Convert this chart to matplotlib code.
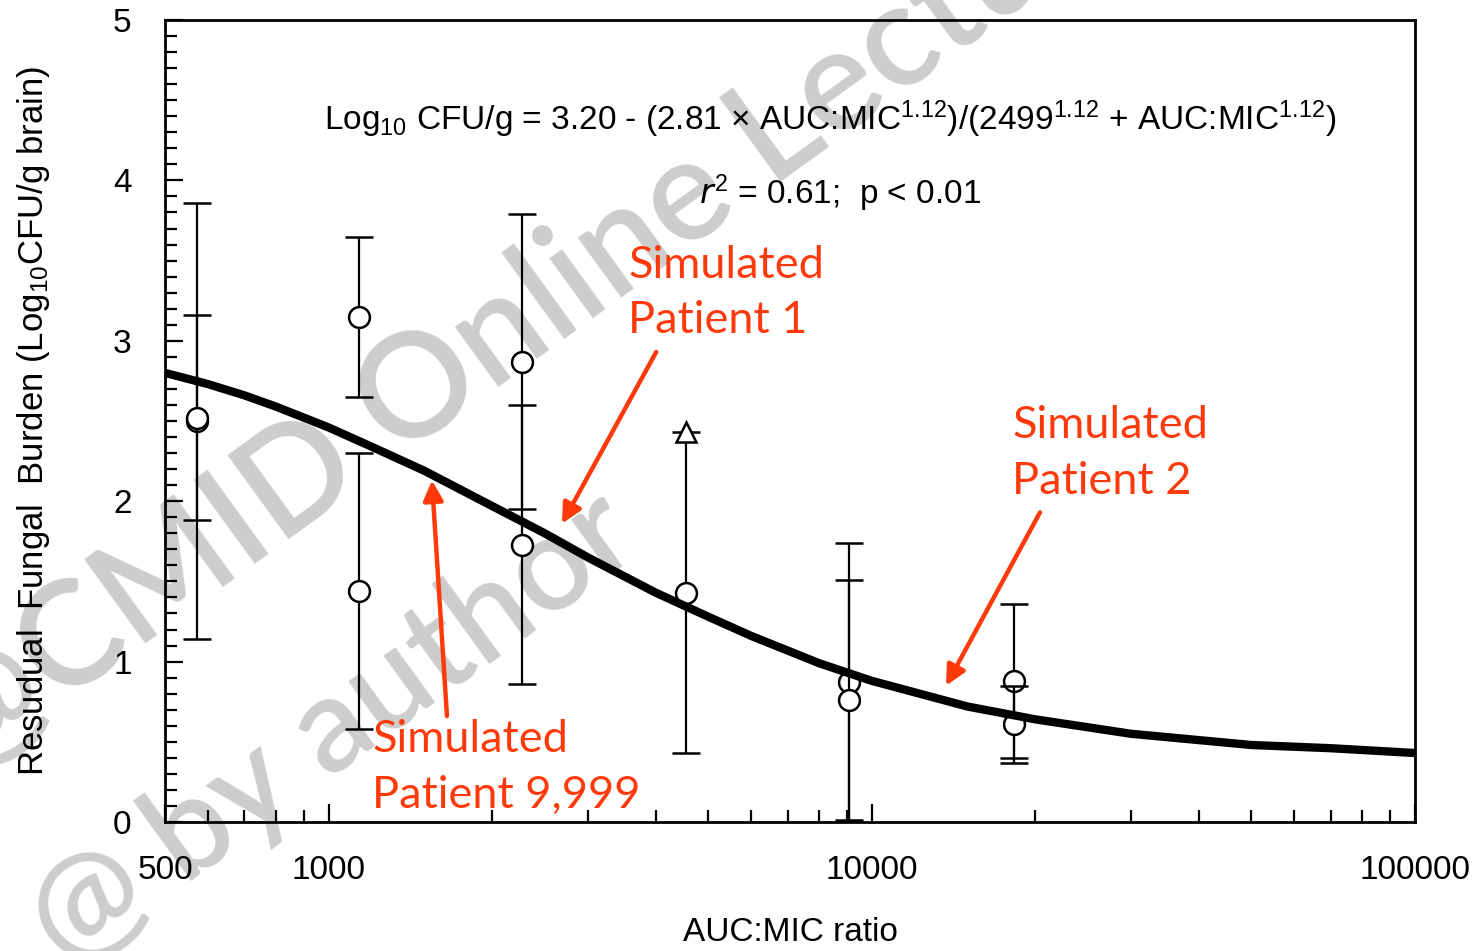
import matplotlib
matplotlib.use('Agg')
import matplotlib.pyplot as plt
from matplotlib.ticker import FixedLocator, LogLocator, MultipleLocator, NullFormatter

plt.rcParams['mathtext.default'] = 'regular'

# ---------------- data ----------------
group_x = [573, 1140, 2270, 4550, 9080, 18280]
mean_a = [2.50, 3.15, 2.87, 1.43, 0.87, 0.88]
sd_a = [1.36, 0.50, 0.92, 1.00, 0.87, 0.48]

x_b = [573, 1140, 2270, 9080, 18280]
mean_b = [2.52, 1.44, 1.73, 0.76, 0.61]
sd_b = [0.64, 0.86, 0.87, 0.75, 0.24]

tri_x = [4550]
tri_y = [2.43]

curve_x = [500, 600, 700, 800, 1000, 1200, 1500, 2000, 2500, 3000, 4000, 5000,
           6000, 8000, 10000, 15000, 20000, 30000, 50000, 70000, 100000]
curve_y = [2.80, 2.73, 2.66, 2.59, 2.46, 2.34, 2.19, 1.97, 1.80, 1.65, 1.43, 1.28,
           1.16, 0.99, 0.88, 0.72, 0.64, 0.55, 0.48, 0.46, 0.43]

xtick_vals = [500, 1000, 10000, 100000]
xtick_labels = ['500', '1000', '10000', '100000']
ytick_vals = [0, 1, 2, 3, 4, 5]
ytick_labels = ['0', '1', '2', '3', '4', '5']

equation = ('Log$_{10}$ CFU/g = 3.20 - (2.81 × AUC:MIC$^{1.12}$)/'
            '(2499$^{1.12}$ + AUC:MIC$^{1.12}$)')
stats_text = '$\\mathit{r}^{2}$ = 0.61;  p < 0.01'

ann_texts = ['Simulated\nPatient 1', 'Simulated\nPatient 2', 'Simulated\nPatient 9,999']
ann_text_xy = [(3560, 3.60), (18130, 2.60), (1203, 0.64)]
ann_head_xy = [(2690, 1.86), (13700, 0.85), (1550, 2.13)]
ann_tail_xy = [(4010, 2.93), (20400, 1.93), (1652, 0.66)]

watermark_1 = '@CMID Online Lecture'
watermark_2 = '@ by author'

# ---------------- figure ----------------
W, H = 1473, 951
fig = plt.figure(figsize=(W / 100, H / 100), dpi=100)
ax = fig.add_axes([165 / W, 1 - 822 / H, (1415 - 165) / W, (822 - 20) / H])
ax.patch.set_alpha(0)

narrow = ['Liberation Sans Narrow', 'Liberation Sans', 'DejaVu Sans']
red = '#ff3a0a'
wm_color = '#cdcdcd'

# watermark
fig.text(-40 / W, 1 - 778 / H, watermark_1, fontsize=104, color=wm_color,
         family='Lato', weight=600, rotation=36, rotation_mode='anchor',
         ha='left', va='baseline', zorder=-5)
fig.text(66 / W, 1 - 970 / H, watermark_2, fontsize=96, color=wm_color,
         family='Lato', weight=600, rotation=36, rotation_mode='anchor',
         ha='left', va='baseline', zorder=-5)

ax.set_xscale('log')
ax.set_xlim(500, 100000)
ax.set_ylim(0, 5)

# curve
ax.plot(curve_x, curve_y, color='black', lw=6, zorder=6, solid_capstyle='butt')

# error bars + markers
ax.errorbar(group_x, mean_a, yerr=sd_a, fmt='o', color='black', ecolor='black',
            elinewidth=1.6, capsize=10, capthick=1.6, ms=15, mfc='white',
            mec='black', mew=1.8, zorder=3)
ax.errorbar(x_b, mean_b, yerr=sd_b, fmt='o', color='black', ecolor='black',
            elinewidth=1.6, capsize=10, capthick=1.6, ms=15, mfc='white',
            mec='black', mew=1.8, zorder=4)
ax.plot(tri_x, tri_y, '^', ms=14, mfc='white', mec='black', mew=1.8, zorder=5)

# ticks
ax.xaxis.set_major_locator(FixedLocator(xtick_vals))
ax.set_xticklabels(xtick_labels)
ax.xaxis.set_minor_locator(LogLocator(base=10, subs=[2, 3, 4, 5, 6, 7, 8, 9]))
ax.xaxis.set_minor_formatter(NullFormatter())
ax.set_yticks(ytick_vals)
ax.set_yticklabels(ytick_labels)
ax.yaxis.set_minor_locator(MultipleLocator(0.1))

ax.tick_params(which='both', direction='in', top=False, right=False, width=1.6)
ax.tick_params(which='major', length=13)
ax.tick_params(which='minor', length=8.5)
ax.tick_params(axis='x', which='major', pad=24, labelsize=24)
ax.tick_params(axis='y', which='major', pad=24, labelsize=24)
for lab in ax.get_xticklabels() + ax.get_yticklabels():
    lab.set_family(narrow)

for sp in ax.spines.values():
    sp.set_linewidth(2)

ax.set_xlabel('AUC:MIC ratio', fontsize=24, family=narrow, labelpad=22)
ax.set_ylabel('Resudual  Fungal  Burden (Log$_{10}$CFU/g brain)', fontsize=25,
              family=narrow, labelpad=44)

# equation text
ax.text(0.532, 0.876, equation, transform=ax.transAxes, ha='center', va='center',
        fontsize=24, family=narrow)
ax.text(0.54, 0.784, stats_text, transform=ax.transAxes, ha='center', va='center',
        fontsize=24, family=narrow)

# annotations
for txt, txy, hxy, sxy in zip(ann_texts, ann_text_xy, ann_head_xy, ann_tail_xy):
    ax.text(txy[0], txy[1], txt, color=red, fontsize=32.5, family='Lato',
            ha='left', va='top', linespacing=1.45, zorder=7)
    ax.annotate('', xy=hxy, xytext=sxy,
                arrowprops=dict(arrowstyle='-|>', color=red, lw=3.2,
                                mutation_scale=30, shrinkA=0, shrinkB=0),
                zorder=7)

fig.savefig('out.png', dpi=100)
